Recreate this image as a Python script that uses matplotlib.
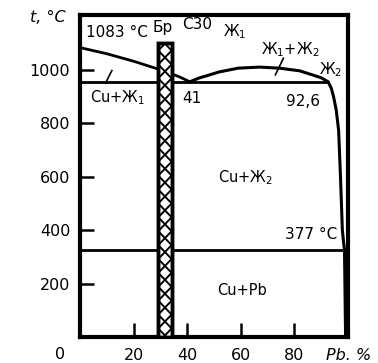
import matplotlib.pyplot as plt

plt.rcParams['font.family'] = ['DejaVu Sans']
plt.rcParams['mathtext.fontset'] = 'dejavusans'

# === DONNÉES (diagramme Cu-Pb) ===
# liquidus côté Cu : de 1083 °C jusqu'au point monotectique 41 %
liq_cu_x = [0, 10, 20, 30, 37, 41]
liq_cu_t = [1083, 1060, 1032, 1000, 974, 955]
# dôme de non-miscibilité + liquidus côté Pb
dome_x = [41, 44.4, 52, 59, 67, 74.5, 82, 87, 90, 92.6, 93.8, 94.6, 95.6, 96.5, 97.2, 97.9, 98.4, 98.7, 99.1]
dome_t = [955, 969, 992, 1006, 1010, 1006, 996, 980, 970, 955, 930, 900, 850, 774, 600, 400, 350, 326, 0]
t_monotect = 955
x_monotect = 92.6
t_eutect = 326
x_eutect = 98.7
# bronze БрС30
bar_x = 31.7
bar_w = 5.0
bar_top = 1100

xticks = [20, 40, 60, 80]
yticks = [200, 400, 600, 800, 1000]

fig = plt.figure(figsize=(3.78, 3.63), dpi=100)
ax = fig.add_axes([0.2116, 0.0716, 0.7090, 0.8871])
ax.set_xlim(0, 100)
ax.set_ylim(0, 1205)

ax.plot(liq_cu_x, liq_cu_t, color='black', lw=2)
ax.plot(dome_x, dome_t, color='black', lw=2.2)
ax.plot([0, x_monotect], [t_monotect, t_monotect], color='black', lw=2)
ax.plot([0, x_eutect], [t_eutect, t_eutect], color='black', lw=2)

bars = ax.bar(bar_x, bar_top, width=bar_w, color='white', edgecolor='black',
              linewidth=2.5, zorder=3)
rect = bars[0]
# hachures croisées (une croix par largeur de barre)
xl, xr = bar_x - bar_w / 2, bar_x + bar_w / 2
step = 52
y = -20
while y < bar_top + 60:
    for seg in ([xl, xr], [y, y + step]), ([xl, xr], [y + step, y]):
        ln, = ax.plot(seg[0], seg[1], color='black', lw=1.4, zorder=3.5)
        ln.set_clip_path(rect)
    y += step
ax.bar(bar_x, bar_top, width=bar_w, fill=False, edgecolor='black',
       linewidth=2.5, zorder=4)

# petits traits de repère
ax.plot([9.5, 11.9], [950, 997], color='black', lw=1.2)
ax.plot([72.9, 75.9], [981, 1043], color='black', lw=1.2)

fs = 10.5
ax.text(2.4, 1138, '1083 °C', fontsize=11, va='center')
ax.text(30.7, 1160, 'Бр', fontsize=11, va='center', ha='center')
ax.text(38, 1168, 'С30', fontsize=11, va='center')
ax.text(53.4, 1142, 'Ж$_1$', fontsize=fs, va='center')
ax.text(67.6, 1074, 'Ж$_1$+Ж$_2$', fontsize=fs, va='center')
ax.text(89.0, 999, 'Ж$_2$', fontsize=fs, va='center')
ax.text(3.9, 894, 'Cu+Ж$_1$', fontsize=fs, va='center')
ax.text(38, 894, '41', fontsize=11, va='center')
ax.text(77, 880, '92,6', fontsize=11, va='center')
ax.text(51.5, 598, 'Cu+Ж$_2$', fontsize=fs, va='center')
ax.text(76.6, 382, '377 °C', fontsize=11, va='center')
ax.text(51.2, 175, 'Cu+Pb', fontsize=fs, va='center')

ax.set_xticks(xticks)
ax.set_yticks(yticks)
ax.tick_params(direction='in', length=10, width=1.8, labelsize=11.5, pad=7)
ax.tick_params(axis='x', pad=8)
for s in ax.spines.values():
    s.set_linewidth(3)

ax.text(-7.4, -0.054, '0', transform=ax.get_xaxis_transform(), fontsize=11.5,
        ha='center', va='center')
fig.text(48 / 378, 1 - 18 / 363, 't, °C', fontsize=11.5, style='italic',
         ha='center', va='center')
fig.text(349 / 378, 1 - 355 / 363, 'Pb. %', fontsize=11.5, style='italic',
         ha='center', va='center')

fig.savefig('out.png', dpi=100)
